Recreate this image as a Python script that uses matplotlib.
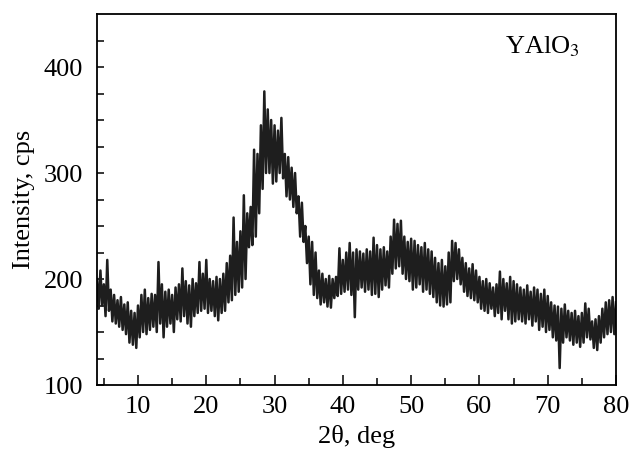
import matplotlib
matplotlib.use("Agg")
import matplotlib.pyplot as plt
import numpy as np

# 2theta grid 4..80 deg step 0.5; upper and lower edge of the noisy trace
two_theta = np.arange(4.0, 80.01, 0.5)
hi = [200, 208, 195, 218, 190, 185, 180, 183, 176, 178,
      170, 168, 175, 185, 190, 182, 186, 185, 216, 195,
      188, 190, 185, 192, 195, 210, 198, 194, 200, 196,
      216, 205, 218, 200, 198, 202, 200, 205, 215, 222,
      258, 235, 245, 279, 262, 268, 322, 318, 345, 377,
      360, 350, 345, 340, 352, 318, 315, 305, 300, 278,
      272, 250, 240, 235, 225, 208, 205, 200, 203, 200,
      202, 229, 218, 225, 234, 225, 228, 226, 224, 228,
      226, 239, 232, 228, 230, 226, 240, 256, 252, 255,
      240, 235, 238, 236, 232, 230, 234, 228, 226, 220,
      215, 218, 212, 225, 236, 234, 228, 220, 215, 210,
      214, 208, 202, 198, 200, 196, 192, 195, 207, 200,
      196, 202, 198, 195, 192, 190, 194, 188, 192, 190,
      186, 190, 184, 178, 175, 174, 172, 176, 170, 168,
      170, 165, 168, 177, 172, 160, 162, 165, 172, 178,
      180, 183, 178]
lo = [172, 175, 165, 170, 160, 158, 155, 152, 148, 140,
      138, 135, 145, 150, 148, 152, 155, 150, 158, 145,
      155, 158, 150, 162, 160, 165, 158, 155, 165, 168,
      170, 172, 168, 170, 165, 161, 168, 170, 178, 180,
      185, 188, 192, 200, 230, 232, 240, 262, 285, 300,
      300, 290, 292, 300, 295, 278, 275, 268, 262, 240,
      235, 215, 195, 185, 182, 176, 178, 174, 173, 182,
      184, 186, 188, 190, 185, 164, 190, 192, 188, 190,
      185, 186, 183, 190, 194, 192, 205, 210, 212, 205,
      200, 198, 190, 192, 195, 188, 190, 186, 183, 178,
      175, 174, 176, 178, 198, 200, 195, 188, 184, 182,
      180, 178, 172, 170, 168, 172, 165, 168, 162, 170,
      162, 158, 160, 162, 160, 158, 162, 156, 160, 152,
      155, 150, 152, 145, 142, 116, 140, 145, 142, 138,
      140, 136, 140, 145, 143, 135, 133, 140, 145, 148,
      150, 148, 150]

# interleave upper and lower points into one zigzag trace
x = np.empty(2 * len(two_theta))
y = np.empty(2 * len(two_theta))
x[0::2] = two_theta
x[1::2] = two_theta + 0.25
y[0::2] = hi
y[1::2] = lo
keep = x <= 80
x, y = x[keep], y[keep]

plt.rcParams["font.family"] = ["Liberation Serif", "DejaVu Serif"]
plt.rcParams["mathtext.fontset"] = "stix"

fig = plt.figure(figsize=(6.32, 4.55), dpi=100)
ax = fig.add_axes([0.1535, 0.1538, 0.8212, 0.8154])
ax.plot(x, y, color="#1e1e1e", lw=1.8)

ax.set_xlim(4, 80)
ax.set_ylim(100, 450)
ax.set_xticks(np.arange(10, 81, 10))
ax.set_xticks(np.arange(5, 80, 5), minor=True)
ax.set_yticks([100, 200, 300, 400])
ax.set_yticks(np.arange(125, 450, 25), minor=True)
ax.tick_params(axis="x", which="major", direction="in", length=7, width=1.1,
               pad=8, labelsize=19)
ax.tick_params(axis="x", which="minor", direction="in", length=5, width=1.1)
ax.tick_params(axis="y", which="both", direction="in", length=5, width=1.1,
               pad=10, labelsize=19)
for s in ax.spines.values():
    s.set_linewidth(1.3)

ax.set_xlabel("2θ, deg", fontsize=19, labelpad=5)
ax.set_ylabel("Intensity, cps", fontsize=19, labelpad=6)
ax.text(0.786, 0.945, r"YAlO$_3$", transform=ax.transAxes, fontsize=19,
        ha="left", va="top")

fig.savefig("out.png", dpi=100)
